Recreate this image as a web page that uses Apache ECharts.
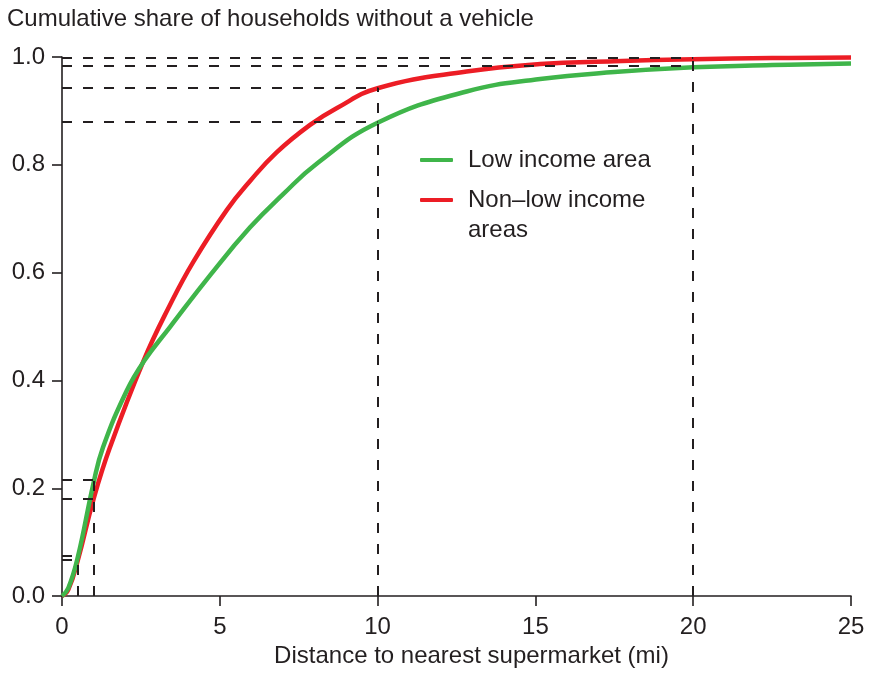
<!DOCTYPE html>
<html>
<head>
<meta charset="utf-8">
<script src="https://cdn.jsdelivr.net/npm/echarts@6/dist/echarts.min.js"></script>
<style>
html,body{margin:0;padding:0;background:#fff;}
#chart{width:869px;height:673px;}
</style>
</head>
<body>
<div id="chart"></div>
<script>
// ---- data ----
var titleText = 'Cumulative share of households without a vehicle';
var xAxisName = 'Distance to nearest supermarket (mi)';
var lowName = 'Low income area';
var nonLowName = 'Non\u2013low income areas';

var lowDist  = [0, 0.2, 0.5, 1, 1.3, 2.05, 2.6, 3.42, 4.69, 5.96, 7.0, 8.07, 10, 12.82, 15.15, 17.5, 20, 22.5, 25];
var lowShare = [0, 0.015, 0.072, 0.21, 0.276, 0.381, 0.436, 0.499, 0.595, 0.684, 0.745, 0.802, 0.878, 0.936, 0.959, 0.972, 0.981, 0.985, 0.988];

var nonDist  = [0, 0.2, 0.5, 1, 1.52, 2.58, 3.42, 4.16, 5.22, 5.96, 6.8, 7.86, 8.7, 10, 12.82, 15.15, 17.5, 20, 22.5, 25];
var nonShare = [0, 0.012, 0.066, 0.18, 0.276, 0.436, 0.540, 0.620, 0.716, 0.770, 0.823, 0.874, 0.905, 0.942, 0.973, 0.987, 0.992, 0.996, 0.998, 0.999];

// reference (dashed) readings
var refDist     = [0.5, 1, 10, 20];
var refLow      = [0.074, 0.215, 0.880, 0.984];
var refNonLow   = [0.068, 0.180, 0.943, 0.999];

var yTicks = [0, 0.2, 0.4, 0.6, 0.8, 1.0];
var xTicks = [0, 5, 10, 15, 20, 25];

// ---- build ----
function pairs(xs, ys){ return xs.map(function(x,i){ return [x, ys[i]]; }); }

var refLines = [];
refDist.forEach(function(x, i){
  var top = Math.max(refLow[i], refNonLow[i]);
  refLines.push([{coord:[x, 0]}, {coord:[x, top]}]);
  refLines.push([{coord:[0, refLow[i]]}, {coord:[x, refLow[i]]}]);
  refLines.push([{coord:[0, refNonLow[i]]}, {coord:[x, refNonLow[i]]}]);
});

var ink = '#231f20';
var font = '"Liberation Sans", Arial, Helvetica, sans-serif';
var fs = 24;
var green = '#3fb54a';
var red = '#ec1d25';

var chart = echarts.init(document.getElementById('chart'), null, {renderer:'canvas'});
chart.setOption({
  animation: false,
  backgroundColor: '#fff',
  textStyle: {fontFamily: font},
  title: {
    text: titleText, left: 7, top: 7, padding: 0,
    textStyle: {fontSize: fs, lineHeight: 24, fontWeight: 'normal', color: ink, fontFamily: font}
  },
  legend: [{
    data: [lowName], left: 420, top: 145, padding: 0, orient: 'vertical',
    icon: 'roundRect', itemWidth: 33, itemHeight: 4,
    textStyle: {fontSize: fs, lineHeight: 30, color: ink, fontFamily: font, padding: [0,0,0,10]},
    selectedMode: false
  },{
    data: [nonLowName], left: 420, top: 155, padding: 0, orient: 'vertical',
    icon: 'roundRect', itemWidth: 33, itemHeight: 4,
    formatter: function(n){ return ' \n' + n.replace(' areas', '\nareas'); },
    textStyle: {fontSize: fs, lineHeight: 30, color: ink, fontFamily: font, padding: [0,0,0,10]},
    selectedMode: false
  }],
  grid: {left: 62, right: 18, top: 57, bottom: 73, containLabel: false},
  xAxis: {
    type: 'value', min: xTicks[0], max: xTicks[xTicks.length-1], interval: 5,
    name: xAxisName, nameLocation: 'middle', nameGap: 47,
    nameTextStyle: {fontSize: fs, color: ink, fontFamily: font, padding: [0,0,0,30]},
    axisLine: {show: true, onZero: false, lineStyle: {color: ink, width: 1.6}},
    axisTick: {show: true, inside: false, length: 10, lineStyle: {color: ink, width: 1.6}},
    axisLabel: {fontSize: fs, color: ink, margin: 19, fontFamily: font},
    splitLine: {show: false}
  },
  yAxis: {
    type: 'value', min: yTicks[0], max: yTicks[yTicks.length-1], interval: 0.2,
    axisLine: {show: true, onZero: false, lineStyle: {color: ink, width: 1.6}},
    axisTick: {show: true, inside: false, length: 10, lineStyle: {color: ink, width: 1.6}},
    axisLabel: {fontSize: fs, color: ink, margin: 17, fontFamily: font,
      formatter: function(v){ return v.toFixed(1); }},
    splitLine: {show: false}
  },
  series: [{
    name: 'refs', type: 'line', data: [], silent: true, z: 1,
    markLine: {
      silent: true, symbol: ['none','none'], animation: false,
      label: {show: false},
      lineStyle: {color: ink, width: 2, type: [10, 11]},
      emphasis: {disabled: true},
      data: refLines
    }
  },{
    name: nonLowName, type: 'line', data: pairs(nonDist, nonShare),
    smooth: 0.45, showSymbol: false, z: 3,
    itemStyle: {color: red},
    lineStyle: {color: red, width: 4.5}
  },{
    name: lowName, type: 'line', data: pairs(lowDist, lowShare),
    smooth: 0.45, showSymbol: false, z: 4,
    itemStyle: {color: green},
    lineStyle: {color: green, width: 4.5}
  }]
});
</script>
</body>
</html>
